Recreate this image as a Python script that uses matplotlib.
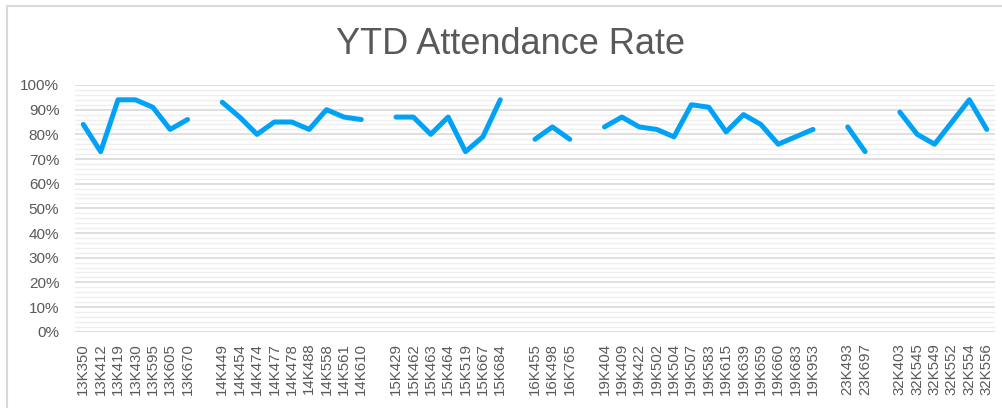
import numpy as np
import matplotlib
matplotlib.use("Agg")
import matplotlib.pyplot as plt
from matplotlib.patches import Rectangle

# Data: '' marks the blank separator categories between district groups
categories = [
    "13K350", "13K412", "13K419", "13K430", "13K595", "13K605", "13K670", "",
    "14K449", "14K454", "14K474", "14K477", "14K478", "14K488", "14K558", "14K561", "14K610", "",
    "15K429", "15K462", "15K463", "15K464", "15K519", "15K667", "15K684", "",
    "16K455", "16K498", "16K765", "",
    "19K404", "19K409", "19K422", "19K502", "19K504", "19K507", "19K583", "19K615", "19K639",
    "19K659", "19K660", "19K683", "19K953", "",
    "23K493", "23K697", "",
    "32K403", "32K545", "32K549", "32K552", "32K554", "32K556",
]
nan = np.nan
attendance = [
    84, 73, 94, 94, 91, 82, 86, nan,
    93, 87, 80, 85, 85, 82, 90, 87, 86, nan,
    87, 87, 80, 87, 73, 79, 94, nan,
    78, 83, 78, nan,
    83, 87, 83, 82, 79, 92, 91, 81, 88, 84, 76, 79, 82, nan,
    83, 73, nan,
    89, 80, 76, 85, 94, 82,
]
yticks = list(range(0, 101, 10))
ytick_labels = [f"{v}%" for v in yticks]
title = "YTD Attendance Rate"

plt.rcParams['font.family'] = ['Liberation Sans', 'DejaVu Sans']

fig = plt.figure(figsize=(10.02, 4.08), dpi=100)
ax = fig.add_axes([74.6 / 1002, (408 - 331.7) / 408, (995.4 - 74.6) / 1002, (331.7 - 85) / 408])

x = np.arange(len(categories))
vals = np.array(attendance, dtype=float) / 100.0
ax.plot(x, vals, color="#00A2F6", linewidth=3.6, solid_capstyle="round",
        solid_joinstyle="round", zorder=3)

ax.set_xlim(-0.5, len(categories) - 0.5)
ax.set_ylim(0, 1)
ax.set_yticks([v / 100 for v in yticks])
ax.set_yticklabels(ytick_labels)
ax.set_yticks(np.arange(0, 1.0001, 0.02), minor=True)
ax.set_xticks(x)
ax.set_xticklabels(categories, rotation=90)

ax.grid(which="major", axis="y", color="#d9d9d9", linewidth=1.2, zorder=1)
ax.grid(which="minor", axis="y", color="#efefef", linewidth=1.0, zorder=0)
ax.tick_params(axis="both", which="both", length=0)
ax.tick_params(axis="y", labelsize=11, labelcolor="#595959", pad=11)
ax.tick_params(axis="x", labelsize=10.8, labelcolor="#595959", pad=8)
for s in ax.spines.values():
    s.set_visible(False)

fig.text(0.509, 0.89, title, ha="center", va="center", fontsize=26, color="#595959")

fig.patches.append(Rectangle((6.5 / 1002, -0.05), 1.2, 1.05 - 6.5 / 408,
                             transform=fig.transFigure, fill=False,
                             edgecolor="#d9d9d9", linewidth=1.5))

fig.savefig("out.png", dpi=100, facecolor="white")
